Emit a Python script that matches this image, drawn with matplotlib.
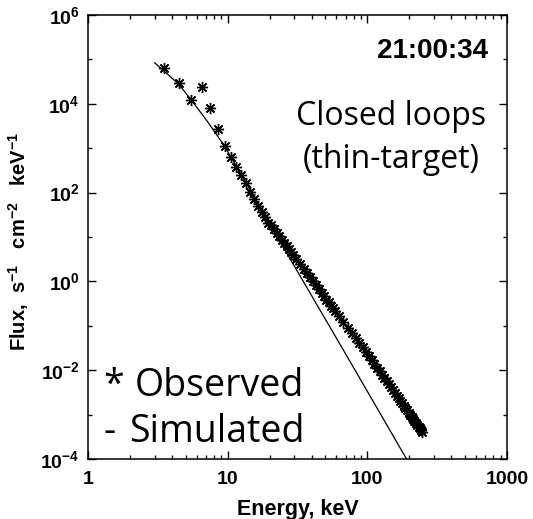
import numpy as np
import matplotlib
matplotlib.use("Agg")
import matplotlib.pyplot as plt
from matplotlib.ticker import FixedLocator, NullFormatter, LogLocator

# observed spectrum (bin centre keV, flux)
obs_energy = [3.5, 4.5, 5.5, 6.5, 7.5, 8.5, 9.5, 10.5, 11.5, 12.5, 13.5, 14.5,
              15.5, 16.5, 17.5, 18.5, 19.5, 20.5, 21.5, 22.5, 23.5, 24.5, 25.5,
              26.5, 27.5, 28.5, 29.5, 31, 33, 35, 37, 39, 41, 43, 45, 47, 49,
              51, 53, 55, 57, 59, 62.5, 67.5, 72.5, 77.5, 82.5, 87.5, 92.5,
              97.5, 102.5, 107.5, 112.5, 117.5, 122.5, 127.5, 132.5, 137.5,
              142.5, 147.5, 152.5, 157.5, 162.5, 167.5, 172.5, 177.5, 182.5,
              187.5, 192.5, 197.5, 202.5, 207.5, 212.5, 217.5, 222.5, 227.5,
              232.5, 237.5, 242.5, 247.5]
obs_flux = [6.3e4, 2.9e4, 1.23e4, 2.34e4, 7.9e3, 2.75e3, 1.12e3, 646, 372, 251,
            162, 105, 71, 50, 37, 28, 21, 18.6, 15.0, 12.4, 10.4, 8.7, 7.4,
            6.3, 5.4, 4.6, 4.0, 3.26, 2.50, 1.94, 1.54, 1.23, 1.0, 0.81, 0.67,
            0.56, 0.47, 0.39, 0.335, 0.286, 0.247, 0.214, 0.169, 0.122, 0.0912,
            0.0692, 0.0533, 0.0418, 0.0327, 0.0259, 0.0207, 0.0167, 0.0137,
            0.0113, 0.00937, 0.00784, 0.00661, 0.0056, 0.00478, 0.00409,
            0.00354, 0.00306, 0.00266, 0.00233, 0.00204, 0.0018, 0.00158,
            0.00141, 0.00125, 0.00111, 9.97e-4, 8.95e-4, 8.04e-4, 7.25e-4,
            6.55e-4, 5.93e-4, 5.38e-4, 4.9e-4, 4.47e-4, 4.07e-4]

# simulated thin-target spectrum
sim_energy = [3.0, 4.4, 5.5, 7.2, 9.5, 20.4, 64, 191]
sim_flux = [8.4e4, 2.9e4, 1.22e4, 3.9e3, 1.12e3, 17.7, 0.0375, 1.0e-4]

xticks = [1, 10, 100, 1000]
xticklabels = ["1", "10", "100", "1000"]
yticks_major = [1e-4, 1e-2, 1e0, 1e2, 1e4, 1e6]
yticklabels = [r"$\mathbf{10^{-4}}$", r"$\mathbf{10^{-2}}$", r"$\mathbf{10^{0}}$",
               r"$\mathbf{10^{2}}$", r"$\mathbf{10^{4}}$", r"$\mathbf{10^{6}}$"]
yticks_minor = [1e-3, 1e-1, 1e1, 1e3, 1e5]

plt.rcParams["mathtext.fontset"] = "custom"
plt.rcParams["mathtext.rm"] = "Liberation Sans"
plt.rcParams["mathtext.bf"] = "Liberation Sans:bold"
plt.rcParams["font.family"] = "Liberation Sans"

fig = plt.figure(figsize=(5.33, 5.19), dpi=100)
ax = fig.add_axes([88 / 533, 1 - 459 / 519, 419 / 533, 444 / 519])

ax.plot(sim_energy, sim_flux, color="black", lw=0.9)
ax.plot(obs_energy, obs_flux, ls="none", marker=(8, 2, 0), ms=8, mew=1.0,
        color="black")

ax.set_xscale("log")
ax.set_yscale("log")
ax.set_xlim(1, 1000)
ax.set_ylim(1e-4, 1e6)

ax.xaxis.set_major_locator(FixedLocator(xticks))
ax.xaxis.set_minor_locator(LogLocator(base=10, subs=np.arange(2, 10)))
ax.xaxis.set_minor_formatter(NullFormatter())
ax.set_xticklabels(xticklabels, fontsize=14, fontweight="bold")
ax.yaxis.set_major_locator(FixedLocator(yticks_major))
ax.set_yticklabels(yticklabels, fontsize=14)
ax.yaxis.set_minor_locator(FixedLocator(yticks_minor))
ax.yaxis.set_minor_formatter(NullFormatter())

ax.tick_params(which="both", direction="in", top=True, right=True,
               color="black", width=1.0)
ax.tick_params(which="major", length=6)
ax.tick_params(which="minor", length=3)
ax.tick_params(axis="x", which="major", pad=9)
ax.tick_params(axis="y", which="major", pad=6)
for s in ax.spines.values():
    s.set_linewidth(1.1)

ax.set_xlabel("Energy, keV", fontsize=15.5, fontweight="bold")
ax.xaxis.set_label_coords(0.5, -0.09)
ax.set_ylabel(r"Flux,  s$^{\mathbf{-1}}$   cm$^{\mathbf{-2}}$   keV$^{\mathbf{-1}}$",
              fontsize=14.5, fontweight="bold", va="center")
ax.yaxis.set_label_coords(-0.165, 0.49)

ax.text(0.955, 0.9025, "21:00:34", transform=ax.transAxes, ha="right",
        va="baseline", fontsize=20, fontweight="bold")
ax.text(0.723, 0.752, "Closed loops", transform=ax.transAxes, ha="center",
        va="baseline", fontsize=23, family="Open Sans")
ax.text(0.723, 0.655, "(thin-target)", transform=ax.transAxes, ha="center",
        va="baseline", fontsize=23, family="Open Sans")
# legend-like annotations
ax.text(0.036, 0.142, "*", transform=ax.transAxes, ha="left",
        va="baseline", fontsize=27, family="Open Sans")
ax.text(0.112, 0.142, "Observed", transform=ax.transAxes, ha="left",
        va="baseline", fontsize=27, family="Open Sans")
ax.text(0.036, 0.038, "-", transform=ax.transAxes, ha="left",
        va="baseline", fontsize=27, family="Open Sans")
ax.text(0.098, 0.038, "Simulated", transform=ax.transAxes, ha="left",
        va="baseline", fontsize=27, family="Open Sans")

fig.savefig("out.png", dpi=100)
